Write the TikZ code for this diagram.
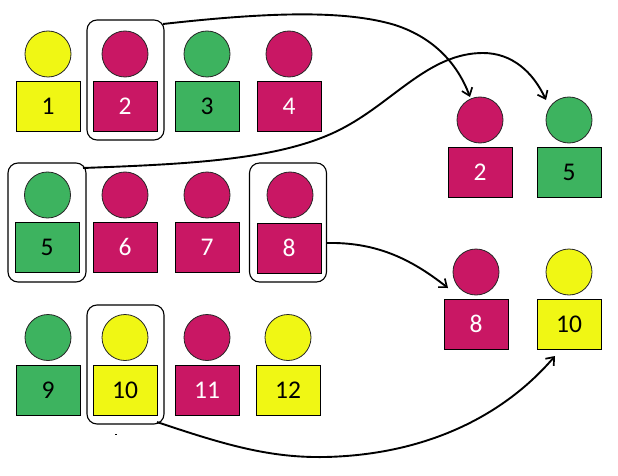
\documentclass[tikz,border=0pt]{standalone}
\usepackage{fontspec}
\setmainfont{Carlito}
\usetikzlibrary{arrows.meta}
\definecolor{mag}{HTML}{C91764}
\definecolor{grn}{HTML}{3DB35F}
\definecolor{yel}{HTML}{F0F714}
\tikzset{
  x=1pt,y=-1pt,
  head/.style={circle,draw=black!85,line width=0.8pt,minimum size=46pt,inner sep=0pt,outer sep=0pt},
  body/.style={rectangle,draw=black,line width=0.9pt,minimum width=64pt,minimum height=50pt,inner sep=0pt,outer sep=0pt,font=\fontsize{25.5}{27}\selectfont},
  magbody/.style={body,fill=mag,text=white},
  grnbody/.style={body,fill=grn,text=black},
  yelbody/.style={body,fill=yel,text=black},
  grp/.style={rectangle,draw=black,line width=1.1pt,rounded corners=10pt,inner sep=0pt,outer sep=0pt},
  link/.style={draw=black,line width=1.9pt,-{Straight Barb[length=7pt,width=11pt,line width=1.7pt]}},
}
\newcommand{\person}[8]{%
  \node[head,fill=#6] (c#1) at (#2,#3) {};
  \node[#7body] (s#1) at (#4,#5) {#8};
}
\begin{document}
\begin{tikzpicture}
\useasboundingbox (0,0) rectangle (618,476);
\fill[white] (0,0) rectangle (618,476);
% groups
\node[grp,minimum width=77pt,minimum height=120pt] (g2) at (125.5,80) {};
\node[grp,minimum width=78pt,minimum height=119pt] (g5) at (47,222.5) {};
\node[grp,minimum width=77pt,minimum height=119pt] (g8) at (288,222.5) {};
\node[grp,minimum width=77pt,minimum height=119pt] (g10) at (125.5,364.5) {};
% row 1
\person{1}{48}{54}{48}{106}{yel}{yel}{1}
\person{2}{125}{54}{125}{106}{mag}{mag}{2}
\person{3}{207}{54}{207}{106}{grn}{grn}{3}
\person{4}{289}{54}{289}{106}{mag}{mag}{4}
% row 2
\person{5}{47.5}{195}{47}{247}{grn}{grn}{5}
\person{6}{125}{195}{125}{247}{mag}{mag}{6}
\person{7}{207}{195}{207}{247}{mag}{mag}{7}
\person{8}{290}{195}{289}{248}{mag}{mag}{8}
% row 3
\person{9}{48}{337.5}{48}{390}{grn}{grn}{9}
\person{10}{125}{337.5}{125}{390}{yel}{yel}{10}
\person{11}{207}{337.5}{207}{390}{mag}{mag}{11}
\person{12}{288}{337.5}{288}{390}{yel}{yel}{12}
% right side
\person{2r}{480}{120}{480}{172}{mag}{mag}{2}
\person{5r}{569}{120}{569}{172}{grn}{grn}{5}
\person{8r}{476}{272}{476}{324}{mag}{mag}{8}
\person{10r}{569}{272}{569}{324}{yel}{yel}{10}
% free ends
\coordinate (e2) at (470,97);
\coordinate (e5) at (546,100);
\coordinate (e8) at (448,288);
\coordinate (e10) at (555,356);
\coordinate (b2) at (163,24);
\coordinate (b5) at (83,168);
\coordinate (b8) at (326.5,243);
\coordinate (b10) at (157,422);
% connectors
\draw[link] (b2) .. controls (270,12) and (345,10) .. (395,25) .. controls (435,38) and (458,65) .. (e2);
\draw[link] (b5) .. controls (190,164) and (285,160) .. (345,127) .. controls (395,100) and (430,53) .. (483,53) .. controls (512,53) and (533,72) .. (e5);
\draw[link] (b8) .. controls (375,242) and (410,258) .. (e8);
\draw[link] (b10) .. controls (225,445) and (270,458) .. (325,457) .. controls (420,455) and (500,420) .. (e10);
\fill[black] (114.5,433.6) rectangle (116.5,434.6);
\end{tikzpicture}
\end{document}
